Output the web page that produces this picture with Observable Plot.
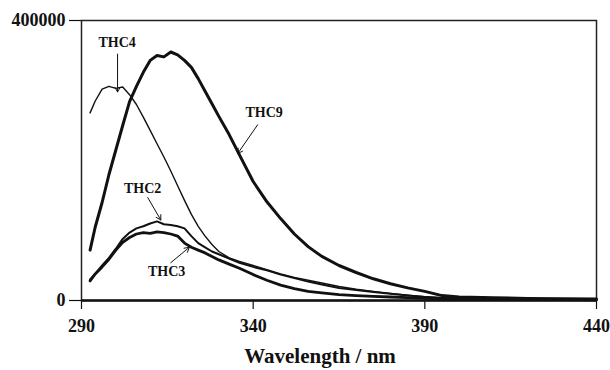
<!DOCTYPE html>
<html>
<head>
<meta charset="utf-8">
<script src="https://cdn.jsdelivr.net/npm/d3@7"></script>
<script src="https://cdn.jsdelivr.net/npm/@observablehq/plot@0.6"></script>
<style>
  html, body { margin: 0; padding: 0; background: #fff; }
  #chart svg { display: block; }
</style>
</head>
<body>
<div id="chart"></div>
<script>
// Wavelength grid (nm)
const wavelength = [292.5, 294, 296, 298, 300, 302, 304, 306, 308, 310, 312, 314, 316, 318, 320, 322, 324, 326, 328, 330, 333, 336, 340, 344, 348, 352, 356, 360, 365, 370, 375, 380, 385, 390, 395, 400, 410, 420, 430, 440];

// Intensities (thousands)
const thc9 = [72, 105, 140, 180, 215, 250, 284, 306, 326, 343, 350, 348, 355, 351, 343, 333, 317, 299, 281, 263, 237, 208, 170, 141, 117, 95, 77, 63, 50, 40, 31, 24, 18, 13, 7, 5, 4, 3, 2.5, 2];
const thc4 = [268, 285, 302, 306, 303, 305, 294, 280, 262, 243, 224, 205, 185, 164, 143, 123, 106, 92, 80, 70, 61, 56, 50, 44, 38, 33, 29, 25, 20, 16, 13, 10, 7.5, 5.5, 4, 2.5, 2, 1.5, 1.2, 1];
const thc2 = [30, 38, 50, 61, 74, 88, 97, 103, 106, 110, 113, 109, 108, 106, 103, 92, 82, 76, 70, 66, 60, 54, 48, 43, 37, 32, 27, 23, 18, 15, 12, 9.5, 7, 5, 3.5, 2.5, 2, 1.5, 1.2, 1];
const thc3 = [28, 38, 48, 59, 72, 83, 90, 95, 97, 96, 98, 97, 95, 92, 82, 76, 72, 68, 63, 58, 52, 46, 37, 29, 22, 17, 13, 11, 8.5, 7, 6, 5, 4, 3, 2.5, 2, 1.8, 1.5, 1.2, 1];

const seriesNames = ["THC9", "THC4", "THC2", "THC3"];
const seriesValues = [thc9, thc4, thc2, thc3];
const seriesWidths = [3, 1.4, 2, 2.8];

const xTicks = [290, 340, 390, 440];
const yTicks = [0, 400000];

// Annotation labels (data units) and arrows
const labelNames = ["THC4", "THC9", "THC2", "THC3"];
const labelX = [300.4, 343.2, 307.8, 314.8];
const labelY = [368000, 268000, 160000, 41000];
const arrowX1 = [300.5, 341.3, 309.3, 316.0];
const arrowY1 = [352000, 251000, 147000, 54000];
const arrowX2 = [300.5, 335.5, 313.1, 321.4];
const arrowY2 = [298000, 210000, 115000, 76000];

const rows = [];
seriesNames.forEach((name, i) => {
  wavelength.forEach((w, j) => rows.push({series: name, wl: w, value: seriesValues[i][j] * 1000}));
});
const labels = labelNames.map((n, i) => ({name: n, x: labelX[i], y: labelY[i]}));
const arrows = labelNames.map((n, i) => ({x1: arrowX1[i], y1: arrowY1[i], x2: arrowX2[i], y2: arrowY2[i]}));

const lineMarks = seriesNames.map((name, i) =>
  Plot.line(rows.filter(r => r.series === name), {x: "wl", y: "value", stroke: "#111", strokeWidth: seriesWidths[i], strokeLinejoin: "round"})
);

const chart = Plot.plot({
  width: 610,
  height: 370,
  marginLeft: 81,
  marginRight: 14,
  marginTop: 20,
  marginBottom: 70,
  style: {fontFamily: "'Liberation Serif', 'Times New Roman', serif", fontWeight: "bold", fontSize: "18px", background: "#fff", color: "#111"},
  x: {domain: [290, 440]},
  y: {domain: [0, 400000]},
  marks: [
    Plot.frame({stroke: "#222", strokeWidth: 1.5}),
    Plot.axisX({ticks: xTicks, tickSize: 9, tickPadding: 10, label: null, tickFormat: d => String(d), strokeWidth: 1.2, fontWeight: "bold"}),
    Plot.axisY({ticks: yTicks, tickSize: 12, tickPadding: 4, label: null, tickFormat: d => String(d), strokeWidth: 1.2, fontWeight: "bold"}),
    ...lineMarks,
    Plot.ruleY([0], {stroke: "#111", strokeWidth: 2.5}),
    Plot.arrow(arrows, {x1: "x1", y1: "y1", x2: "x2", y2: "y2", stroke: "#111", strokeWidth: 1, headLength: 8}),
    Plot.text(labels, {x: "x", y: "y", text: "name", fontSize: 14, fontWeight: "bold", fill: "#111"}),
    Plot.text(["Wavelength / nm"], {frameAnchor: "bottom", dy: 62, dx: -19, fontSize: 21, fontWeight: "bold", fill: "#111"})
  ]
});
document.getElementById("chart").appendChild(chart);
</script>
</body>
</html>
